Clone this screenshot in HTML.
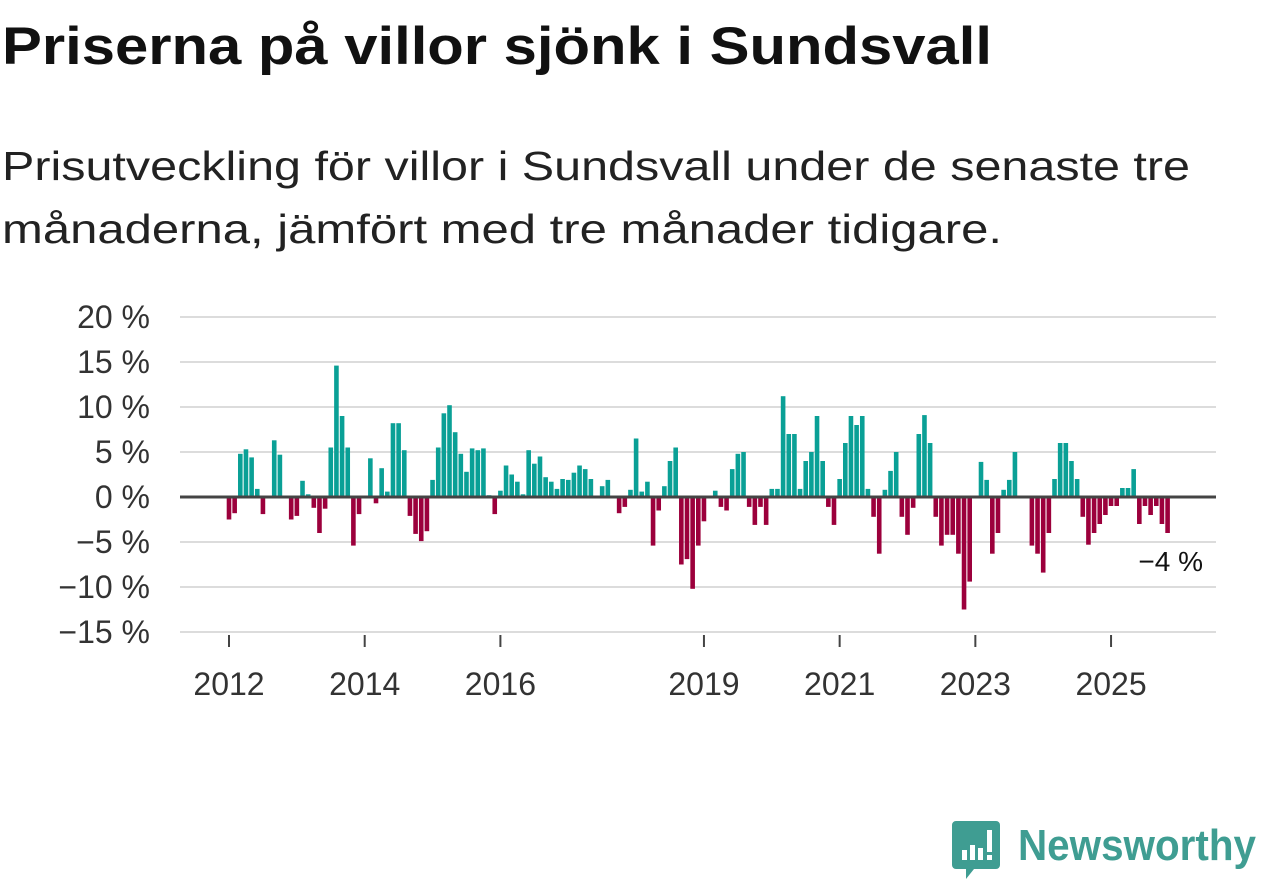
<!DOCTYPE html>
<html><head><meta charset="utf-8"><style>
body{margin:0;background:#fff;width:1262px;height:879px;overflow:hidden;font-family:"Liberation Sans",sans-serif}
</style></head><body>
<svg width="1262" height="879" xmlns="http://www.w3.org/2000/svg">
<text x="2" y="64" font-size="53" font-weight="bold" fill="#111" textLength="990" lengthAdjust="spacingAndGlyphs">Priserna på villor sjönk i Sundsvall</text>
<text x="2" y="180" font-size="41" fill="#222" textLength="1188" lengthAdjust="spacingAndGlyphs">Prisutveckling för villor i Sundsvall under de senaste tre</text>
<text x="2" y="243" font-size="41" fill="#222" textLength="1000" lengthAdjust="spacingAndGlyphs">månaderna, jämfört med tre månader tidigare.</text>
<g id="grid"></g>
<g id="bars"></g>
<g id="axes"></g>
<text x="1203" y="571" font-size="28" fill="#111" text-anchor="end">−4 %</text>
<g>
<path d="M956 821 h40 a4 4 0 0 1 4 4 v40 a4 4 0 0 1 -4 4 h-22 l-8 10 v-10 h-10 a4 4 0 0 1 -4 -4 v-40 a4 4 0 0 1 4 -4z" fill="#3f9d92"/>
<rect x="962" y="850" width="5" height="10" fill="#fff"/><rect x="970" y="845" width="5" height="15" fill="#fff"/><rect x="978" y="848" width="5" height="12" fill="#fff"/><rect x="987" y="830" width="5" height="22" fill="#fff"/><rect x="987" y="855" width="5" height="5" fill="#fff"/>
<text x="1018" y="860" font-size="44" font-weight="bold" fill="#3f9d92" textLength="238" lengthAdjust="spacingAndGlyphs">Newsworthy</text>
</g>
</svg>
<script>
const values2012=[-2.5,-1.8,4.8,5.3,4.4,0.9,-1.9,0,6.3,4.7,0,-2.5];
const values2013=[-2.1,1.8,0.3,-1.2,-4,-1.3,5.5,14.6,9,5.5,-5.4,-1.9];
const values2014=[0,4.3,-0.7,3.2,0.6,8.2,8.2,5.2,-2.1,-4.1,-4.9,-3.8];
const values2015=[1.9,5.5,9.3,10.2,7.2,4.8,2.8,5.4,5.2,5.4,0.2,-1.9];
const values2016=[0.7,3.5,2.5,1.7,0.3,5.2,3.7,4.5,2.2,1.7,0.9,2];
const values2017=[1.9,2.7,3.5,3.1,2,0,1.2,1.9,0,-1.8,-1.1,0.8];
const values2018=[6.5,0.6,1.7,-5.4,-1.5,1.2,4,5.5,-7.5,-6.9,-10.2,-5.4];
const values2019=[-2.7,0,0.7,-1.1,-1.5,3.1,4.8,5,-1.1,-3.1,-1.1,-3.1];
const values2020=[0.9,0.9,11.2,7,7,0.9,4,5,9,4,-1.1,-3.1];
const values2021=[2,6,9,8,9,0.9,-2.2,-6.3,0.8,2.9,5,-2.2];
const values2022=[-4.2,-1.2,7,9.1,6,-2.2,-5.4,-4.2,-4.2,-6.3,-12.5,-9.4];
const values2023=[0,3.9,1.9,-6.3,-4,0.8,1.9,5,0,0,-5.4,-6.3];
const values2024=[-8.4,-4,2,6,6,4,2,-2.2,-5.3,-4,-3,-2];
const values2025=[-1,-1,1,1,3.1,-3,-1,-2,-1,-3,-4];
const startYear=2012;
const yTicks=[20,15,10,5,0,-5,-10,-15];
const yTickLabels=["20 %","15 %","10 %","5 %","0 %","−5 %","−10 %","−15 %"];
const xTicks=[2012,2014,2016,2019,2021,2023,2025];
const series=[values2012,values2013,values2014,values2015,values2016,values2017,values2018,values2019,values2020,values2021,values2022,values2023,values2024,values2025];
const NS="http://www.w3.org/2000/svg";
function y(v){return 497-v*9;}
function x(yearFrac){return 229+(yearFrac-2012)*67.85;}
function mk(t,a,p){const e=document.createElementNS(NS,t);for(const k in a)e.setAttribute(k,a[k]);p.appendChild(e);return e;}
const grid=document.getElementById('grid'),bars=document.getElementById('bars'),axes=document.getElementById('axes');
yTicks.forEach((t,i)=>{
 if(t!==0){const l=mk('line',{x1:180,x2:1216,y1:y(t),y2:y(t),stroke:'#dcdcdc','stroke-width':2},grid);
 
 }
 const tx=mk('text',{x:150,y:y(t)+11,'font-size':32,fill:'#333','text-anchor':'end'},axes);
 tx.textContent=yTickLabels[i];
 
 
});
series.forEach((arr,yi)=>{arr.forEach((v,m)=>{
 if(v===0)return;
 const cx=x(startYear+yi+m/12);
 const r=mk('rect',{x:cx-2.3,width:4.6,y:Math.min(y(v),497),height:Math.abs(y(v)-497),fill:v>0?'#0aa096':'#9c003c'},bars);
 
 
});});
const z=mk('line',{x1:180,x2:1216,y1:497,y2:497,stroke:'#444','stroke-width':3},axes);


xTicks.forEach(t=>{
 const tk=mk('line',{x1:x(t),x2:x(t),y1:635,y2:647,stroke:'#444','stroke-width':2},axes);
 
 
 const tx=mk('text',{x:x(t),y:695,'font-size':32,fill:'#333','text-anchor':'middle'},axes);
 tx.textContent=t;
 
 
});
</script>
</body></html>
